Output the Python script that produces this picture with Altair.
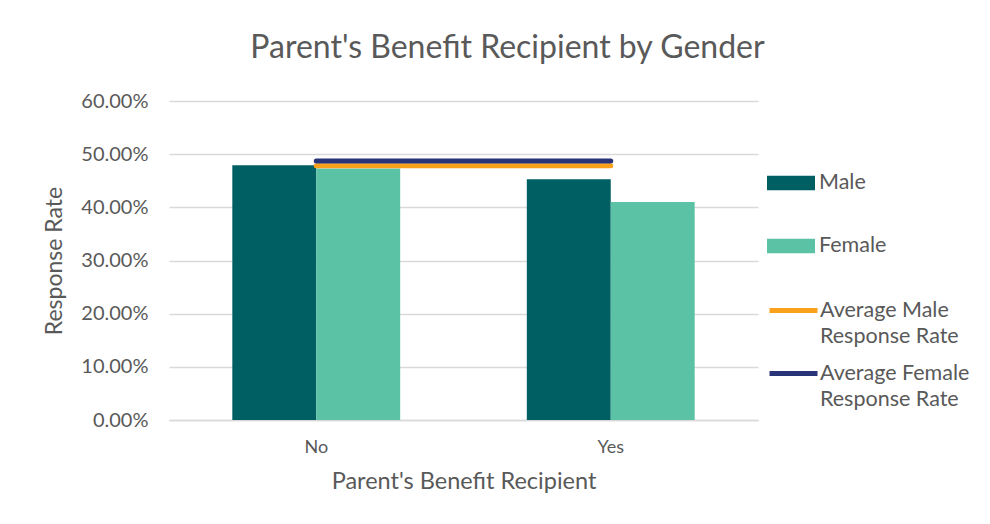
import altair as alt
import pandas as pd

categories = ["No", "Yes"]
genders = ["Male", "Female"]
male_rate = [0.479, 0.453]
female_rate = [0.473, 0.410]
avg_series = ["Average Male Response Rate", "Average Female Response Rate"]
avg_male = [0.478, 0.478]
avg_female = [0.487, 0.487]

bar_colors = ["#005F63", "#5BC2A6"]
line_colors = ["#F9A11B", "#283378"]
TXT = "#595959"
FONT = "Lato"

bars_df = pd.DataFrame({
    "cat": categories * 2,
    "gender": ["Male"] * 2 + ["Female"] * 2,
    "rate": male_rate + female_rate,
})
lines_df = pd.DataFrame({
    "cat": categories * 2,
    "series": [avg_series[0]] * 2 + [avg_series[1]] * 2,
    "rate": avg_male + avg_female,
})

x_enc = alt.X(
    "cat:N",
    sort=categories,
    scale=alt.Scale(paddingInner=0.43, paddingOuter=0.215),
    axis=alt.Axis(
        title="Parent's Benefit Recipient", labelAngle=0, ticks=False,
        labelPadding=18, titlePadding=13, domainColor="#D9D9D9", domainWidth=1.5,
        labelFontSize=18, titleFontSize=23.5, labelColor=TXT, titleColor=TXT,
        titleFontWeight="normal", labelFont=FONT, titleFont=FONT,
    ),
)
y_enc = alt.Y(
    "rate:Q",
    scale=alt.Scale(domain=[0, 0.6], nice=False),
    axis=alt.Axis(
        title="Response Rate", format=".2%", values=[0, 0.1, 0.2, 0.3, 0.4, 0.5, 0.6],
        ticks=False, domain=False, gridColor="#D9D9D9", gridWidth=1.5,
        labelPadding=21, titlePadding=14, labelFontSize=20, titleFontSize=23,
        labelColor=TXT, titleColor=TXT, titleFontWeight="normal",
        labelFont=FONT, titleFont=FONT,
    ),
)

bars = alt.Chart(bars_df).mark_bar().encode(
    x=x_enc,
    y=y_enc,
    xOffset=alt.XOffset("gender:N", sort=genders),
    fill=alt.Fill(
        "gender:N",
        scale=alt.Scale(domain=genders, range=bar_colors),
        legend=alt.Legend(
            title=None, orient="none", legendX=598, legendY=58,
            symbolType="M-1,-0.3L1,-0.3L1,0.3L-1,0.3Z", symbolSize=2304,
            symbolStrokeWidth=0, rowPadding=28, labelFontSize=21.5,
            labelColor=TXT, labelFont=FONT, labelOffset=4, padding=0,
        ),
    ),
)

label_expr = ("datum.label == 'Average Male Response Rate' ? ['Average Male', 'Response Rate'] : "
              "['Average Female', 'Response Rate']")

lines = alt.Chart(lines_df).mark_line(strokeWidth=5, strokeCap="round").encode(
    x=alt.X("cat:N", sort=categories),
    y="rate:Q",
    stroke=alt.Stroke(
        "series:N",
        scale=alt.Scale(domain=avg_series, range=line_colors),
        legend=alt.Legend(
            title=None, orient="none", legendX=598, legendY=183,
            symbolType="M-1,0L1,0", symbolSize=2304, symbolStrokeWidth=5,
            rowPadding=0, labelFontSize=21.5, labelColor=TXT, labelFont=FONT,
            labelOffset=0, padding=0, labelExpr=label_expr, labelBaseline="middle",
            labelLimit=300,
        ),
    ),
    order=alt.Order("series:N"),
)

chart = alt.layer(bars, lines).resolve_legend(fill="independent", stroke="independent").properties(
    width=589,
    height=319,
    autosize=alt.AutoSizeParams(type="none"),
    padding={"left": 161, "top": 93, "right": 224, "bottom": 96},
    title=alt.TitleParams(
        "Parent's Benefit Recipient by Gender", fontSize=32, color=TXT,
        font=FONT, fontWeight="normal", anchor="middle", dx=44, offset=26,
    ),
).configure(
    background="white",
    style={"guide-label": {"lineHeight": 26}},
    view=alt.ViewConfig(stroke=None),
)

chart.save("out.html", embed_options={"renderer": "svg", "actions": False})
